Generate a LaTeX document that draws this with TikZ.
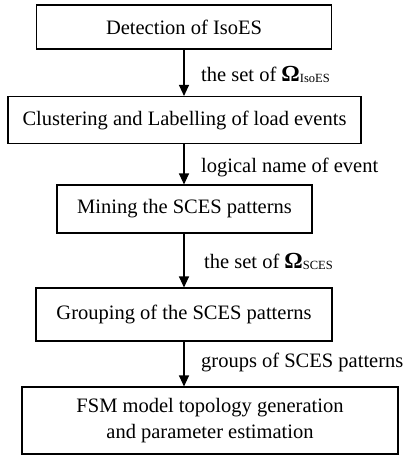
\documentclass[tikz,border=0pt]{standalone}
\usepackage{fontspec}
\setmainfont{Liberation Serif}
\usetikzlibrary{arrows.meta}
\newcommand{\Om}[1]{{\bfseries\fontsize{23}{23}\selectfont Ω}\raisebox{-0.15ex}{\fontsize{12.5}{12.5}\selectfont #1}}
\begin{document}
\begin{tikzpicture}[x=1pt,y=-1pt,
  box/.style={draw,line width=1.1pt,inner sep=0pt,align=center,font=\fontsize{20.5}{26}\selectfont},
  arr/.style={line width=1.1pt,-{Triangle[length=11pt,width=10pt]}},
  lab/.style={anchor=base west,inner sep=0pt,font=\fontsize{20.5}{26}\selectfont}]
\useasboundingbox (0,0) rectangle (409,455);
\node[box,minimum width=295pt,minimum height=44pt] (b1) at (184,27) {Detection of IsoES};
\node[box,minimum width=353pt,minimum height=47pt] (b2) at (184.5,120) {Clustering and Labelling of load events};
\node[box,minimum width=255pt,minimum height=48pt] (b3) at (184.5,209) {Mining the SCES patterns};
\node[box,minimum width=296pt,minimum height=53pt] (b4) at (184,314.5) {Grouping of the SCES patterns};
\node[box,minimum width=376pt,minimum height=67pt] (b5) at (210,420.5) {FSM model topology generation\\and parameter estimation};
\draw[arr] (b1.south) -- (b1.south |- b2.north);
\draw[arr] (b1.south |- b2.south) -- (b1.south |- b3.north);
\draw[arr] (b1.south |- b3.south) -- (b1.south |- b4.north);
\draw[arr] (b4.south) -- (b4.south |- b5.north);
\node[lab] (l1) at (201,81) {the set of \Om{IsoES}};
\node[lab] (l2) at (201,172) {logical name of event};
\node[lab] (l3) at (204,268) {the set of \Om{SCES}};
\node[lab] (l4) at (201,367) {groups of SCES patterns};
\end{tikzpicture}
\end{document}
